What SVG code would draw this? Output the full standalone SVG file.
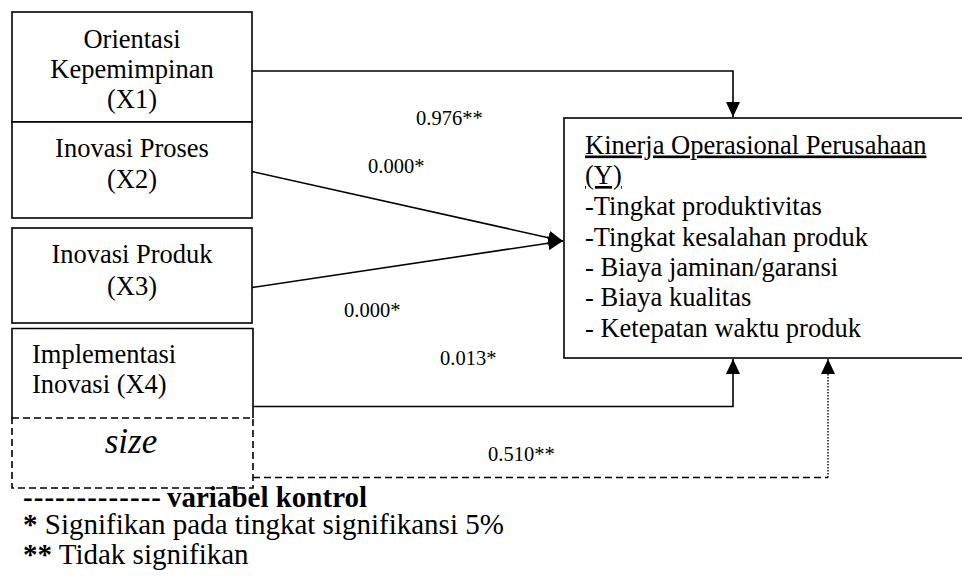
<svg xmlns="http://www.w3.org/2000/svg" width="962" height="579" viewBox="0 0 962 579">
<style>
text{font-family:"Liberation Serif","Times New Roman",Tinos,"DejaVu Serif",serif;fill:#000}
.n{font-size:26.5px}
.c{text-anchor:middle}
.lbl{font-size:20.5px}
.box{fill:#fff;stroke:#000;stroke-width:1.6}
.ln{fill:none;stroke:#000;stroke-width:1.6}
.dash{fill:none;stroke:#000;stroke-width:1.6;stroke-dasharray:7,4}
.dot{fill:none;stroke:#000;stroke-width:1.4;stroke-dasharray:1.5,1.5}
.leg{font-size:29px}
.b{font-weight:bold}
</style>
<defs>
<marker id="ah" markerUnits="userSpaceOnUse" markerWidth="16" markerHeight="14" refX="15" refY="7" orient="auto">
<path d="M0,0 L15,7 L0,14 z" fill="#000"/>
</marker>
</defs>
<rect width="962" height="579" fill="#fff"/>
<g id="connectors">
<path class="ln" d="M252,71 H733 V117" marker-end="url(#ah)"/>
<path class="ln" d="M252,171.5 L563,241" marker-end="url(#ah)"/>
<path class="ln" d="M252,287.5 L563,241" marker-end="url(#ah)"/>
<path class="ln" d="M253,406.5 H733 V359" marker-end="url(#ah)"/>
<path class="dash" d="M253,477.5 H828"/>
<path class="dot" d="M828,477.5 V359" marker-end="url(#ah)"/>
</g>
<g id="labels">
<text class="lbl" x="416" y="125">0.976**</text>
<text class="lbl" x="368" y="173">0.000*</text>
<text class="lbl" x="344" y="317">0.000*</text>
<text class="lbl" x="440" y="365">0.013*</text>
<text class="lbl" x="488" y="461">0.510**</text>
</g>
<g id="x1">
<rect class="box" x="12" y="12" width="240" height="110"/>
<text class="n c" x="132" y="48">Orientasi</text>
<text class="n c" x="132" y="78">Kepemimpinan</text>
<text class="n c" x="132" y="108">(X1)</text>
</g>
<g id="x2">
<rect class="box" x="12" y="122" width="240" height="96"/>
<text class="n c" x="132" y="157">Inovasi Proses</text>
<text class="n c" x="132" y="188">(X2)</text>
</g>
<g id="x3">
<rect class="box" x="12" y="228" width="240" height="95"/>
<text class="n c" x="132" y="263">Inovasi Produk</text>
<text class="n c" x="132" y="295">(X3)</text>
</g>
<g id="x4">
<path class="ln" d="M12,418 V328.5 H253 V418"/>
<text class="n" x="32" y="363">Implementasi</text>
<text class="n" x="32" y="393">Inovasi (X4)</text>
</g>
<g id="size">
<rect class="dash" x="12" y="418" width="241" height="70"/>
<text class="c" x="131" y="453" style="font-size:35px;font-style:italic">size</text>
</g>
<g id="y">
<rect class="box" x="564" y="118" width="420" height="240"/>
<text class="n" x="585" y="153.5" text-decoration="underline">Kinerja Operasional Perusahaan</text>
<text class="n" x="585" y="184" text-decoration="underline">(Y)</text>
<text class="n" x="585" y="214.5">-Tingkat produktivitas</text>
<text class="n" x="585" y="245.5">-Tingkat kesalahan produk</text>
<text class="n" x="585" y="275.5">- Biaya jaminan/garansi</text>
<text class="n" x="585" y="306">- Biaya kualitas</text>
<text class="n" x="585" y="337">- Ketepatan waktu produk</text>
</g>
<g id="legend">
<text class="leg b" x="23" y="507"><tspan textLength="138" lengthAdjust="spacing">-------------</tspan><tspan x="167">variabel kontrol</tspan></text>
<text class="leg" x="23" y="534"><tspan class="b">*</tspan> Signifikan pada tingkat signifikansi 5%</text>
<text class="leg" x="23" y="564"><tspan class="b">**</tspan> Tidak signifikan</text>
</g>
</svg>
